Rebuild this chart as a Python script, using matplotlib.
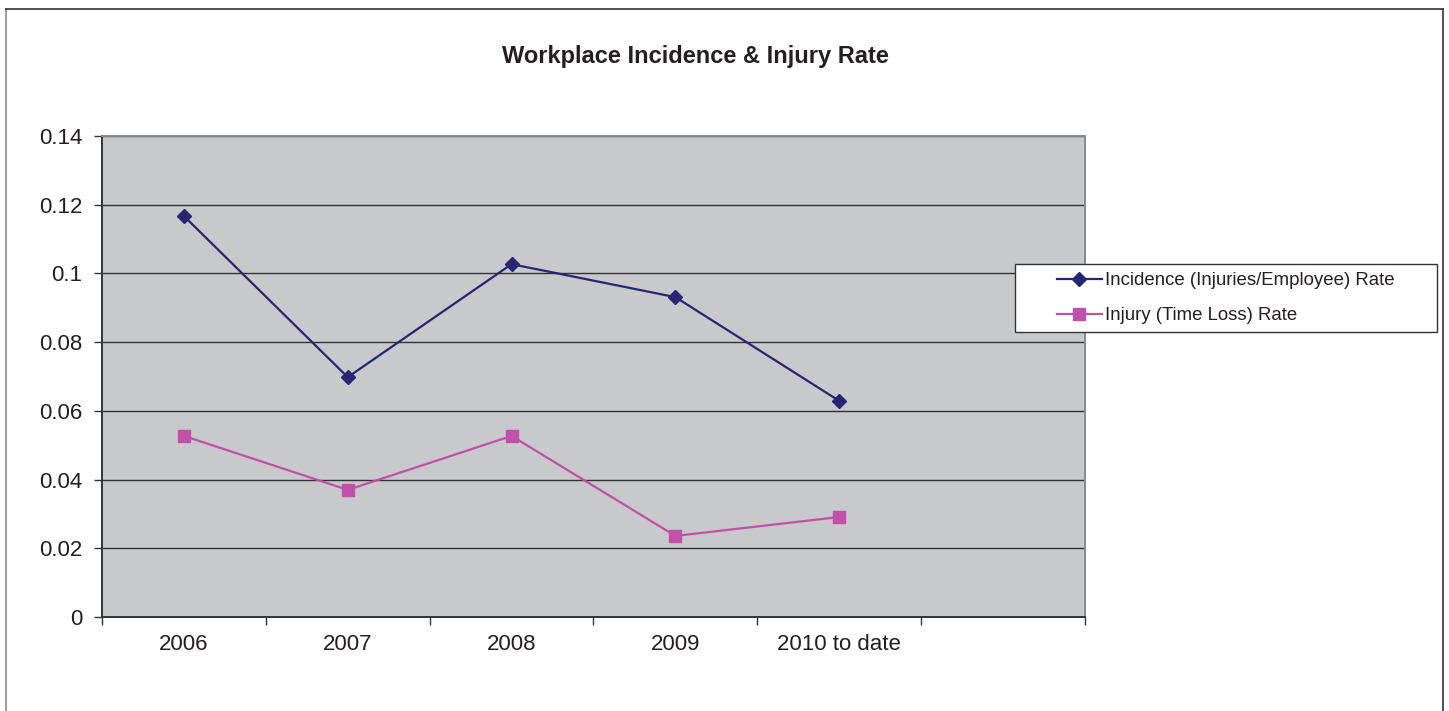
import matplotlib
matplotlib.use("Agg")
import matplotlib.pyplot as plt
from matplotlib.lines import Line2D
from matplotlib.patches import Rectangle

plt.rcParams['font.family'] = ['Liberation Sans', 'DejaVu Sans']

categories = ["2006", "2007", "2008", "2009", "2010 to date", ""]
incidence = [0.1167, 0.0698, 0.1027, 0.0931, 0.0629]
injury = [0.0527, 0.0370, 0.0527, 0.0236, 0.0291]
yticks = [0, 0.02, 0.04, 0.06, 0.08, 0.1, 0.12, 0.14]
ytick_labels = ["0", "0.02", "0.04", "0.06", "0.08", "0.1", "0.12", "0.14"]

W, H = 1449, 711
fig = plt.figure(figsize=(W / 100, H / 100), dpi=100)

# outer chart border
fig.add_artist(Line2D([6 / W, 6 / W], [0, 1 - 9 / H], color="#8a8a8a", lw=1.2, transform=fig.transFigure))
fig.add_artist(Line2D([6 / W, 1443 / W], [1 - 9 / H, 1 - 9 / H], color="#333333", lw=1.2, transform=fig.transFigure))
fig.add_artist(Line2D([1443 / W, 1443 / W], [0, 1 - 9 / H], color="#333333", lw=1.2, transform=fig.transFigure))

ax = fig.add_axes([102 / W, (H - 617) / H, 983 / W, 481 / H])
ax.set_facecolor("#C8C9CB")

x = list(range(len(incidence)))
ax.plot(x, incidence, color="#262673", lw=1.6, marker="D", markersize=7.5,
        label="Incidence (Injuries/Employee) Rate", zorder=3)
ax.plot(x, injury, color="#C050A8", lw=1.6, marker="s", markersize=8.5,
        label="Injury (Time Loss) Rate", zorder=3)

ax.set_xlim(-0.5, len(categories) - 0.5)
ax.set_ylim(0, 0.14)
ax.set_yticks(yticks)
ax.set_yticklabels(ytick_labels, fontsize=16, color="#231f20")
ax.yaxis.grid(True, color="#333333", lw=1.0)
ax.set_axisbelow(True)

ax.set_xticks([i - 0.5 for i in range(len(categories) + 1)])
ax.set_xticklabels([])
ax.set_xticks(range(len(categories)), minor=True)
ax.set_xticklabels(categories, minor=True, fontsize=16, color="#231f20")
ax.tick_params(axis="x", which="minor", length=0, pad=12)
ax.tick_params(axis="x", which="major", length=6, width=1, color="#333333", direction="out")
ax.tick_params(axis="y", length=6, width=1, color="#333333", direction="out", pad=8)

for side in ["left", "bottom"]:
    ax.spines[side].set_color("#333333")
    ax.spines[side].set_linewidth(1.4)
for side in ["top", "right"]:
    ax.spines[side].set_color("#8a8a8a")
    ax.spines[side].set_linewidth(1.4)

fig.text(695 / W, 1 - 57 / H, "Workplace Incidence & Injury Rate", ha="center", va="center",
         fontsize=17, fontweight="bold", color="#231f20")

# legend box
fig.add_artist(Rectangle((1015 / W, 1 - 332 / H), (1437 - 1015) / W, (332 - 264) / H,
                         transform=fig.transFigure, facecolor="white", edgecolor="#333333",
                         lw=1.0, zorder=4))
leg = fig.legend(loc="upper left", bbox_to_anchor=(1057 / W, 1 - 272 / H), fontsize=13.4,
                 frameon=False, handlelength=2.4, handletextpad=0.2, borderpad=0,
                 labelspacing=0.97, borderaxespad=0)
leg.set_zorder(5)
for t in leg.get_texts():
    t.set_color("#231f20")

fig.savefig("out.png", dpi=100)
